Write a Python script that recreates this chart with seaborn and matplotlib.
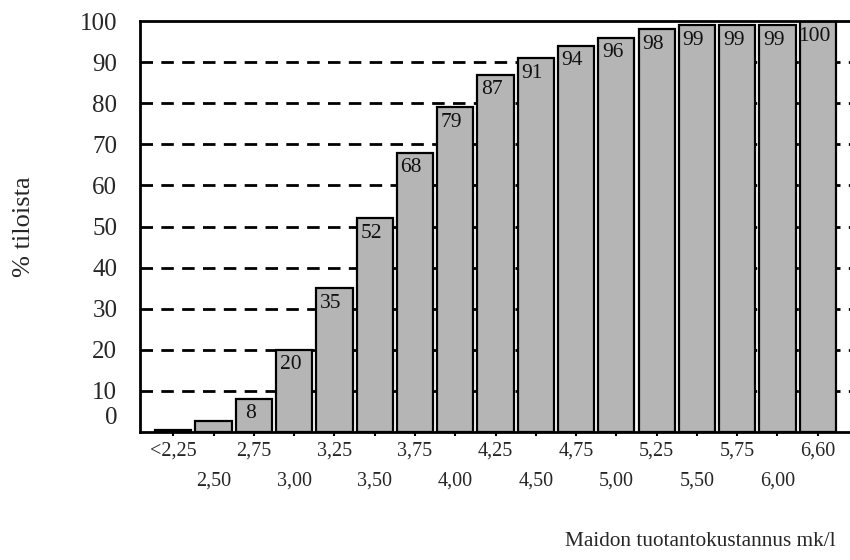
import matplotlib
matplotlib.use("Agg")
import matplotlib.pyplot as plt
import matplotlib.transforms as mtransforms
import seaborn as sns
import pandas as pd

# Cumulative share of farms by milk production cost (mk/l)
cost_classes = ["<2,25", "2,50", "2,75", "3,00", "3,25", "3,50", "3,75", "4,00",
                "4,25", "4,50", "4,75", "5,00", "5,25", "5,50", "5,75", "6,00", "6,60"]
cum_share = [0.5, 2.5, 8, 20, 35, 52, 68, 79, 87, 91, 94, 96, 98, 99, 99, 99, 100]
value_labels = ["", "", "8", "20", "35", "52", "68", "79", "87", "91", "94", "96",
                "98", "99", "99", "99", "100"]
y_ticks = [0, 10, 20, 30, 40, 50, 60, 70, 80, 90, 100]

df = pd.DataFrame({"cost": cost_classes, "share": cum_share})

sns.set_style("white")
plt.rcParams["font.family"] = ["Liberation Serif", "DejaVu Serif"]

fig = plt.figure(figsize=(8.5, 5.6), dpi=100)
ax = fig.add_axes([0.165, 0.229, 0.835, 0.733])

# dashed reference lines behind the bars
for yv in y_ticks[1:-1]:
    ax.axhline(yv, color="black", lw=2.0, ls=(0, (4.5, 3)), zorder=0)

sns.barplot(data=df, x="cost", y="share", color="#b5b5b5", saturation=1,
            edgecolor="black", linewidth=1.6, width=0.9, ax=ax, zorder=2)

for i, (v, lab) in enumerate(zip(cum_share, value_labels)):
    if lab:
        ax.annotate(lab, xy=(i - 0.09, v), xytext=(0, -4), textcoords="offset points",
                    ha="center", va="top", fontsize=15.5, color="#111111", zorder=3)

ax.set_xlim(-0.82, 16.8)
ax.set_ylim(0, 100)

# y axis
ax.set_yticks(y_ticks)
ax.set_yticklabels([str(t) for t in y_ticks], fontsize=18)
ax.tick_params(axis="y", length=3, width=1.5, direction="inout", pad=15, color="black")
zero_lab = ax.get_yticklabels()[0]
zero_lab.set_transform(zero_lab.get_transform() +
                       mtransforms.ScaledTranslation(0, 16 / 100, fig.dpi_scale_trans))

# x axis: labels in two staggered rows
pos_even = list(range(0, len(cost_classes), 2))
pos_odd = list(range(1, len(cost_classes), 2))
ax.set_xticks(pos_even)
ax.set_xticklabels([cost_classes[i] for i in pos_even], fontsize=14.5)
ax.set_xticks(pos_odd, minor=True)
ax.set_xticklabels([cost_classes[i] for i in pos_odd], minor=True, fontsize=14.5)
ax.tick_params(axis="x", which="both", length=3, width=1.5, direction="out", color="black",
               bottom=True)
ax.tick_params(axis="x", which="major", pad=4)
ax.tick_params(axis="x", which="minor", pad=26)

ax.set_xlabel("Maidon tuotantokustannus mk/l", fontsize=15.3)
ax.xaxis.set_label_coords(0.789, -0.245)
ax.set_ylabel("% tiloista", fontsize=19)
ax.yaxis.set_label_coords(-0.148, 0.50)

for side in ["left", "bottom", "top"]:
    ax.spines[side].set_visible(True)
    ax.spines[side].set_color("black")
    ax.spines[side].set_linewidth(2)
ax.spines["right"].set_visible(False)

fig.savefig("out.png", dpi=100)
